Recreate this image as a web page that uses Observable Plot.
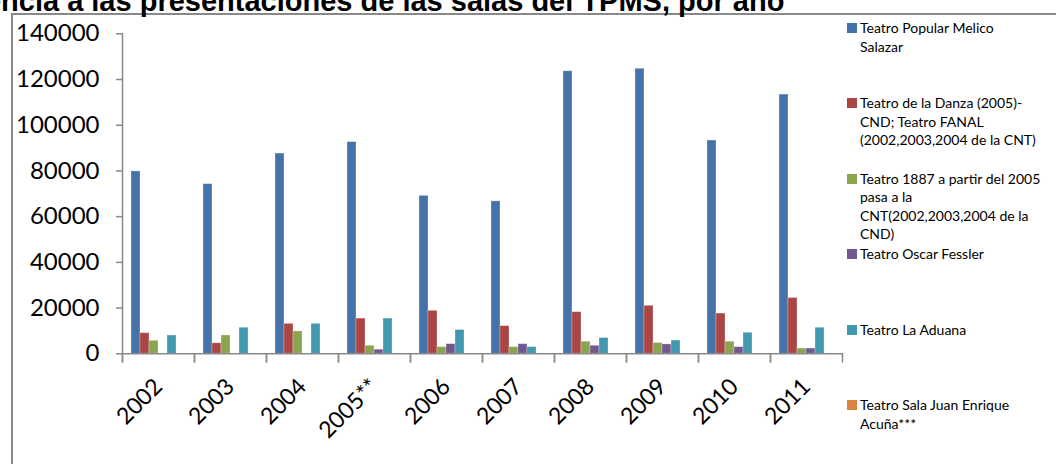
<!DOCTYPE html>
<html><head><meta charset="utf-8">
<script src="https://cdn.jsdelivr.net/npm/d3@7"></script>
<script src="https://cdn.jsdelivr.net/npm/@observablehq/plot@0.6"></script>
<style>
body{margin:0;background:#fff;}
#wrap{position:relative;width:1056px;height:464px;overflow:hidden;background:#fff;}
#chart{position:absolute;left:0;top:0;}
#border{position:absolute;left:11px;top:13px;width:2000px;height:2000px;border-top:2px solid #898989;border-left:2px solid #898989;}
#title{position:absolute;left:-86px;top:-13px;font:bold 29px/29px "Liberation Sans",Arial,sans-serif;white-space:nowrap;color:#000;}
#legend{position:absolute;left:847px;top:0;width:209px;height:464px;font-family:Lato,sans-serif;font-size:14px;color:#000;}
.item{position:absolute;left:0;white-space:pre;line-height:18.5px;}
.sw{position:absolute;left:0;top:4px;width:10px;height:10px;}
.lbl{position:absolute;left:13px;top:0;}
</style>
</head><body>
<div id="wrap">
  <div id="chart"></div>
  <div id="border"></div>
  <div id="title"></div>
  <div id="legend"></div>
</div>
<script>
const titleText = "Asistencia a las presentaciones de las salas del TPMS, por año";
const years = ["2002","2003","2004","2005**","2006","2007","2008","2009","2010","2011"];
const legendLabels = [
  "Teatro Popular Melico\nSalazar",
  "Teatro de la Danza (2005)-\nCND; Teatro FANAL\n(2002,2003,2004 de la CNT)",
  "Teatro 1887 a partir del 2005\npasa a la\nCNT(2002,2003,2004 de la\nCND)",
  "Teatro Oscar Fessler",
  "Teatro La Aduana",
  "Teatro Sala Juan Enrique\nAcuña***"
];
const seriesNames = legendLabels.map(s => s.replace(/\n/g, " "));
const colors = ["#4572A7", "#AA4643", "#89A54E", "#71588F", "#4198AF", "#DB843D"];
const yTicks = [0, 20000, 40000, 60000, 80000, 100000, 120000, 140000];

const melicoSalazar = [79800, 74200, 87600, 92600, 69100, 66700, 123600, 124700, 93300, 113400];
const danzaFanal    = [9000, 4600, 13100, 15400, 18800, 12100, 18200, 21000, 17600, 24400];
const teatro1887    = [5700, 8000, 9800, 3500, 2900, 2900, 5300, 4700, 5300, 2300];
const oscarFessler  = [null, null, null, 1800, 4200, 4200, 3500, 4100, 2900, 2300];
const laAduana      = [8000, 11400, 13100, 15400, 10400, 2900, 6900, 5800, 9200, 11400];
const juanAcuna     = [null, null, null, null, null, null, null, null, null, null];
const valueSeries = [melicoSalazar, danzaFanal, teatro1887, oscarFessler, laAduana, juanAcuna];

const data = [];
years.forEach((yr, i) => valueSeries.forEach((arr, j) => {
  if (arr[i] != null) data.push({year: yr, series: seriesNames[j], value: arr[i]});
}));

const gray = "#898989";
const H = 464, MT = 33.3, MB = 110.7;
const chart = Plot.plot({
  width: 850, height: H,
  marginLeft: 121, marginRight: 7, marginTop: MT, marginBottom: MB,
  style: {background: "transparent", fontFamily: "Lato, sans-serif", color: "#000", overflow: "visible"},
  fx: {domain: years, padding: 0, label: null, axis: null},
  x: {domain: seriesNames, paddingInner: 0, paddingOuter: 0.72, axis: null},
  y: {domain: [0, 140000], label: null, axis: null},
  color: {domain: seriesNames, range: colors},
  marks: [
    Plot.barY(data, {fx: "year", x: "series", y: "value", fill: "series", stroke: "#fff", strokeOpacity: 0.35, strokeWidth: 0.8}),
    Plot.ruleY([0], {stroke: gray, strokeWidth: 1.5}),
    Plot.frame({anchor: "left", facetAnchor: "left", stroke: gray, strokeWidth: 1.5, insetBottom: -8}),
    Plot.frame({anchor: "left", stroke: gray, strokeWidth: 1.5, insetTop: H - MT - MB, insetBottom: -8}),
    Plot.frame({anchor: "right", stroke: gray, strokeWidth: 1.5, insetTop: H - MT - MB, insetBottom: -8}),
    Plot.axisY({ticks: yTicks, tickSize: 6, tickPadding: 17, stroke: gray, strokeWidth: 1.5, fill: "#000", fontSize: 24, tickFormat: d => String(d), label: null}),
    Plot.axisFx({anchor: "bottom", tickRotate: -45, tickSize: 0, tickPadding: 29, fill: "#000", fontSize: 23, label: null})
  ]
});
document.getElementById("chart").appendChild(chart);
document.getElementById("title").textContent = titleText;

const legend = document.getElementById("legend");
legendLabels.forEach((lab, i) => {
  const item = document.createElement("div");
  item.className = "item";
  item.style.top = (19 + 75.4 * i) + "px";
  const sw = document.createElement("div");
  sw.className = "sw";
  sw.style.background = colors[i];
  const lbl = document.createElement("div");
  lbl.className = "lbl";
  lbl.textContent = lab;
  item.appendChild(sw);
  item.appendChild(lbl);
  legend.appendChild(item);
});
</script>
</body></html>
